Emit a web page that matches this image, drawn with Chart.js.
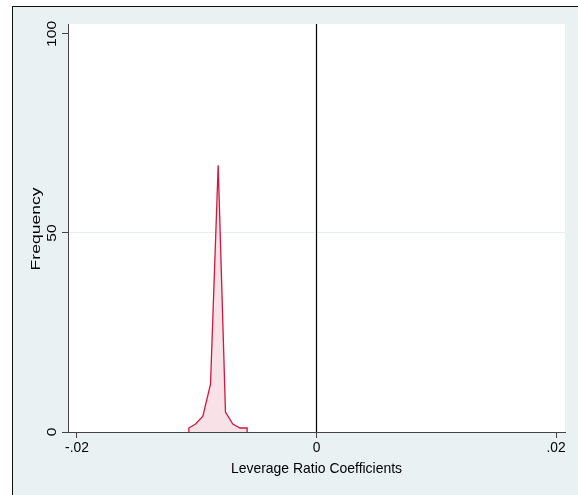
<!DOCTYPE html>
<html><head><meta charset="UTF-8">
<title>Leverage Ratio Coefficients</title>
<script src="https://cdn.jsdelivr.net/npm/chart.js"></script>
<style>
body {
  margin: 0;
  width: 578px;
  height: 495px;
  background: #ffffff;
  overflow: hidden;
  position: relative;
  font-family: 'Liberation Sans', Arial, sans-serif;
}
.frame {
  position: absolute;
  left: 12px;
  top: 6px;
  right: 0;
  bottom: 0;
  border-left: 1px solid #111;
  border-top: 1px solid #111;
  background: #eaf1f3;
}
.chart-box {
  position: absolute;
  left: 0;
  top: 0;
  width: 578px;
  height: 495px;
}
</style>
</head>
<body>
<div class="frame"></div>
<div class="chart-box"><canvas id="histChart" width="578" height="495"></canvas></div>

<script>
// frequency polygon
const binMids = [-0.01066, -0.01010, -0.00949, -0.00885, -0.00821, -0.00760, -0.00699, -0.00639, -0.00579];
const freqs = [1, 2, 4, 12, 67, 5, 2, 1, 1];
const xTicks = [-0.02, 0, 0.02];
const xTickLabels = ['-.02', '0', '.02'];
const yTicks = [0, 50, 100];
const yTickLabels = ['0', '50', '100'];
const refLineX = 0;

const X_MIN = -0.02075, X_MAX = 0.02075;
const Y_MIN = 0, Y_MAX = 102.5;

// closed polygon: drop to zero at both ends
const polyPoints = [{ x: binMids[0], y: 0 }];
binMids.forEach((m, i) => polyPoints.push({ x: m, y: freqs[i] }));
polyPoints.push({ x: binMids[binMids.length - 1], y: 0 });

const FONT = "'Liberation Sans', Arial, sans-serif";

// tick labels and axis titles, drawn slightly narrow like the Stata export
const axisText = {
  id: 'axisText',
  afterDraw(chart) {
    const ctx = chart.ctx;
    const y = chart.scales.y;
    const x = chart.scales.x;
    ctx.save();
    ctx.fillStyle = '#000';
    ctx.textAlign = 'center';
    ctx.textBaseline = 'middle';

    ctx.font = '13px ' + FONT;
    yTicks.forEach((v, i) => {
      ctx.save();
      ctx.translate(52, y.getPixelForValue(v));
      ctx.rotate(-Math.PI / 2);
      ctx.scale(1.2, 1);
      ctx.fillText(yTickLabels[i], 0, 0);
      ctx.restore();
    });

    ctx.save();
    ctx.translate(36, y.getPixelForValue(50) - 4);
    ctx.rotate(-Math.PI / 2);
    ctx.scale(1.35, 1);
    ctx.fillText('Frequency', 0, 0);
    ctx.restore();

    ctx.font = '15px ' + FONT;
    xTicks.forEach((v, i) => {
      ctx.save();
      ctx.translate(x.getPixelForValue(v), 448);
      ctx.scale(0.92, 1);
      ctx.fillText(xTickLabels[i], 0, 0);
      ctx.restore();
    });

    ctx.save();
    ctx.translate(x.getPixelForValue(0), 469);
    ctx.scale(0.93, 1);
    ctx.fillText('Leverage Ratio Coefficients', 0, 0);
    ctx.restore();
    ctx.restore();
  }
};

const chart = new Chart(document.getElementById('histChart'), {
  type: 'scatter',
  data: {
    datasets: [
      {
        data: polyPoints,
        showLine: true,
        borderColor: '#d0173f',
        borderWidth: 1.3,
        backgroundColor: 'rgba(232, 150, 168, 0.28)',
        fill: 'origin',
        pointRadius: 0,
        tension: 0
      },
      {
        data: [{ x: refLineX, y: Y_MIN }, { x: refLineX, y: Y_MAX }],
        showLine: true,
        borderColor: '#000',
        borderWidth: 1.2,
        pointRadius: 0,
        fill: false
      }
    ]
  },
  options: {
    responsive: false,
    animation: false,
    devicePixelRatio: 1,
    layout: { padding: { left: 0, right: 13, top: 24, bottom: 0 } },
    plugins: {
      legend: { display: false },
      tooltip: { enabled: false }
    },
    scales: {
      x: {
        type: 'linear',
        min: X_MIN,
        max: X_MAX,
        afterBuildTicks: s => { s.ticks = xTicks.map(v => ({ value: v })); },
        afterFit: s => { s.height = 63; },
        ticks: { display: false },
        grid: {
          color: 'transparent',
          tickColor: '#444',
          tickLength: 6,
          drawOnChartArea: false
        },
        border: { color: '#444', width: 1 }
      },
      y: {
        type: 'linear',
        min: Y_MIN,
        max: Y_MAX,
        afterBuildTicks: s => { s.ticks = yTicks.map(v => ({ value: v })); },
        afterFit: s => { s.width = 68; },
        ticks: { display: false },
        grid: {
          color: c => (c.tick && c.tick.value === 50 ? '#e6eef0' : 'transparent'),
          tickColor: '#444',
          tickLength: 6
        },
        border: { color: '#444', width: 1 }
      }
    }
  },
  plugins: [
    {
      id: 'whitePlot',
      beforeDraw(chart) {
        const a = chart.chartArea;
        chart.ctx.save();
        chart.ctx.fillStyle = '#ffffff';
        chart.ctx.fillRect(a.left, a.top, a.right - a.left, a.bottom - a.top);
        chart.ctx.restore();
      }
    },
    axisText
  ]
});
</script>
</body></html>
